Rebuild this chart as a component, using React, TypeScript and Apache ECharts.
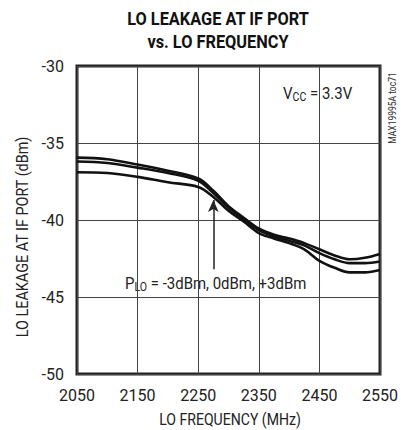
import React, { useEffect, useRef } from "react";
import * as echarts from "echarts";

const freqMHz = [2050, 2100, 2150, 2200, 2250, 2275, 2300, 2325, 2350, 2375, 2400, 2425, 2450, 2475, 2500, 2525, 2550];
const leakPlus3 = [-35.95, -36.05, -36.4, -36.8, -37.3, -38.1, -39.1, -39.85, -40.55, -40.95, -41.2, -41.5, -41.9, -42.3, -42.55, -42.45, -42.2];
const leak0 = [-36.2, -36.3, -36.6, -36.95, -37.45, -38.25, -39.2, -39.95, -40.65, -41.05, -41.35, -41.65, -42.15, -42.55, -42.8, -42.8, -42.7];
const leakMinus3 = [-36.9, -36.95, -37.2, -37.55, -37.85, -38.5, -39.4, -40.1, -40.85, -41.2, -41.5, -41.9, -42.65, -43.1, -43.4, -43.4, -43.25];
const seriesNames = ["+3dBm", "0dBm", "-3dBm"];
const xTicks = { min: 2050, max: 2550, step: 100 };
const yTicks = { min: -50, max: -30, step: 5 };

const FONT = "Roboto, 'Liberation Sans', sans-serif";

export default function App() {
  const ref = useRef<HTMLDivElement>(null);
  useEffect(() => {
    if (!ref.current) return;
    const chart = echarts.init(ref.current, null, { renderer: "svg" });
    const all = [leakPlus3, leak0, leakMinus3];
    const series: any[] = all.map((vals, i) => ({
      name: seriesNames[i],
      type: "line",
      data: freqMHz.map((f, j) => [f, vals[j]]),
      showSymbol: false,
      smooth: 0.35,
      lineStyle: { color: "#111", width: 2.6 },
      z: 3,
    }));
    series[1].markLine = {
      silent: true,
      symbol: ["none", "arrow"],
      symbolSize: [8, 12],
      label: { show: false },
      lineStyle: { color: "#222", width: 1.5, type: "solid" },
      data: [[{ coord: [2275, -43.2] }, { coord: [2275, -38.7] }]],
    };
    chart.setOption({
      animation: false,
      backgroundColor: "#fff",
      grid: { left: 77, top: 66, width: 308, height: 308, show: true, borderColor: "#222", borderWidth: 3, backgroundColor: "transparent" },
      xAxis: {
        type: "value",
        min: xTicks.min,
        max: xTicks.max,
        interval: xTicks.step,
        axisLine: { show: false },
        axisTick: { show: false },
        splitLine: { show: true, lineStyle: { color: "#444", width: 1 } },
        axisLabel: { fontFamily: FONT, fontSize: 16, color: "#222", margin: 13, formatter: (v: number) => String(v) },
      },
      yAxis: {
        type: "value",
        min: yTicks.min,
        max: yTicks.max,
        interval: yTicks.step,
        axisLine: { show: false },
        axisTick: { show: false },
        splitLine: { show: true, lineStyle: { color: "#444", width: 1 } },
        axisLabel: { fontFamily: FONT, fontSize: 16, color: "#222", margin: 13, formatter: (v: number) => String(v) },
      },
      graphic: [
        {
          type: "text",
          x: 218,
          y: 19,
          scaleX: 0.86,
          style: { text: "LO LEAKAGE AT IF PORT", font: `bold 19px ${FONT}`, fill: "#111", align: "center", verticalAlign: "middle" },
        },
        {
          type: "text",
          x: 218,
          y: 42,
          scaleX: 0.86,
          style: { text: "vs. LO FREQUENCY", font: `bold 19px ${FONT}`, fill: "#111", align: "center", verticalAlign: "middle" },
        },
        {
          type: "text",
          x: 230,
          y: 420,
          scaleX: 0.88,
          style: { text: "LO FREQUENCY (MHz)", font: `16px ${FONT}`, fill: "#222", align: "center", verticalAlign: "middle" },
        },
        {
          type: "text",
          x: 23,
          y: 237,
          rotation: Math.PI / 2,
          scaleX: 0.9,
          style: { text: "LO LEAKAGE AT IF PORT (dBm)", font: `16px ${FONT}`, fill: "#222", align: "center", verticalAlign: "middle" },
        },
        {
          type: "text",
          x: 392,
          y: 108,
          rotation: Math.PI / 2,
          scaleX: 0.85,
          style: { text: "MAX19995A toc71", font: `10px ${FONT}`, fill: "#333", align: "center", verticalAlign: "middle" },
        },
        {
          type: "text",
          x: 283,
          y: 93,
          scaleX: 0.88,
          style: {
            text: "{a|V}{b|CC}{a| = 3.3V}",
            rich: {
              a: { fontFamily: FONT, fontSize: 17, fill: "#222" },
              b: { fontFamily: FONT, fontSize: 12, fill: "#222", padding: [8, 0, 0, 0] },
            },
            verticalAlign: "middle",
          },
        },
        {
          type: "text",
          x: 125,
          y: 283,
          scaleX: 0.88,
          style: {
            text: "{a|P}{b|LO}{a| = -3dBm, 0dBm, +3dBm}",
            rich: {
              a: { fontFamily: FONT, fontSize: 17, fill: "#222" },
              b: { fontFamily: FONT, fontSize: 12, fill: "#222", padding: [8, 0, 0, 0] },
            },
            verticalAlign: "middle",
          },
        },
      ],
      series,
    });
    return () => chart.dispose();
  }, []);
  return <div ref={ref} style={{ position: "fixed", left: 0, top: 0, width: 401, height: 430 }} />;
}
